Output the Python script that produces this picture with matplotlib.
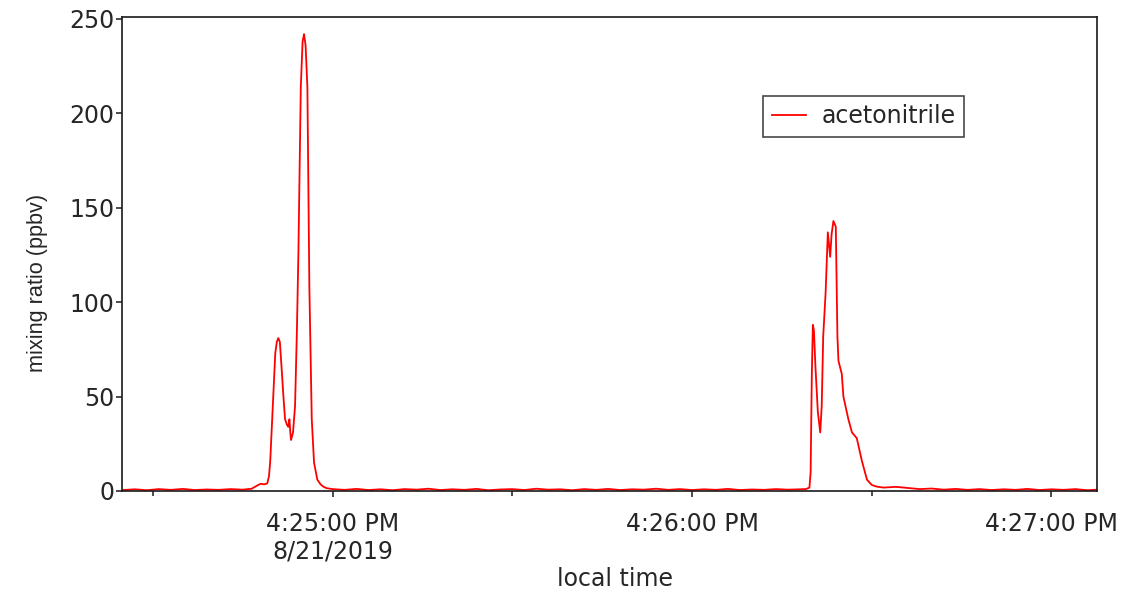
"""
Acetonitrile mixing ratio time series, 8/21/2019, 4:24:25 - 4:27:08 PM local time.
Writes out.png.
"""

from datetime import datetime, timedelta

import matplotlib

matplotlib.use("Agg")
import matplotlib.dates as mdates
import matplotlib.pyplot as plt
from matplotlib.ticker import FuncFormatter

# seconds relative to 4:25:00 PM
seconds = [
    -35, -33, -31, -29, -27, -25, -23, -21, -19, -17, -15, -13.5,
    # first plume
    -12.4, -12.0, -11.4, -10.9, -10.6, -10.4, -9.95, -9.56, -9.3, -9.05,
    -8.8, -8.48, -8.2, -7.93, -7.6, -7.38, -7.2, -7.05, -6.93, -6.6,
    -6.26, -5.95, -5.7, -5.5, -5.3, -5.0, -4.76, -4.5, -4.2, -3.87,
    -3.47, -3.09, -2.54, -2.0, -1.54, -1.0,
    # background
    0, 2, 4, 6, 8, 10, 12, 14, 16, 18, 20, 22, 24, 26, 28, 30, 32, 34, 36, 38,
    40, 42, 44, 46, 48, 50, 52, 54, 56, 58, 60, 62, 64, 66, 68, 70, 72, 74, 76, 78,
    # second plume
    79.0, 79.6, 79.8, 80.0, 80.17, 80.35, 80.6, 81.0, 81.4, 81.65,
    81.9, 82.3, 82.67, 83.06, 83.3, 83.6, 84.0, 84.27, 84.44, 85.0,
    85.27, 86.1, 86.7, 87.5, 88.35, 89.2, 90.0, 90.85,
    # background
    92, 94, 96, 98, 100, 102, 104, 106, 108, 110, 112, 114, 116, 118, 120,
    122, 124, 126, 127.6,
]

ppbv = [
    0.5, 0.9, 0.4, 1.0, 0.6, 1.1, 0.5, 0.8, 0.6, 1.0, 0.7, 1.2,
    3.2, 3.8, 3.5, 4.0, 8, 16, 46, 73, 79, 81,
    79, 64, 50, 38, 35, 34, 38, 31, 27, 31,
    45, 85, 126, 170, 214, 238, 242, 236, 214, 108,
    38, 15, 6, 3.5, 2.3, 1.5,
    1.0, 0.6, 1.1, 0.5, 0.9, 0.4, 1.0, 0.7, 1.2, 0.5, 0.9, 0.6, 1.1, 0.4, 0.8, 1.0, 0.5, 1.2, 0.7, 0.9,
    0.4, 1.0, 0.6, 1.1, 0.5, 0.9, 0.7, 1.2, 0.6, 1.0, 0.5, 0.9, 0.6, 1.1, 0.5, 0.8, 0.6, 1.0, 0.7, 0.9,
    1.0, 1.8, 10, 62, 88, 85, 66, 42, 31, 45,
    82, 105, 137, 124, 136, 143, 140, 82, 69, 62,
    50, 38, 31, 28, 16, 6, 3.2, 2.3,
    1.8, 2.2, 1.6, 1.0, 1.3, 0.7, 1.1, 0.6, 1.0, 0.5, 0.9, 0.6, 1.1, 0.5, 0.9,
    0.6, 1.0, 0.4, 0.7,
]

t_ref = datetime(2019, 8, 21, 16, 25, 0)
x_start = t_ref - timedelta(seconds=35.1)
x_end = t_ref + timedelta(seconds=127.6)

times = [t_ref + timedelta(seconds=s) for s in seconds]

plt.rcParams["font.family"] = ["DejaVu Sans"]
TEXT = "#262626"


def time_label(x, pos=None):
    dt = mdates.num2date(x)
    label = f"{dt.hour % 12 or 12}:{dt:%M:%S} {dt:%p}"
    if dt.minute == 25 and dt.second == 0:
        label += f"\n{dt.month}/{dt.day}/{dt.year}"
    return label


fig = plt.figure(figsize=(11.3, 5.92), dpi=100)
ax = fig.add_axes([0.1082, 0.1698, 0.8626, 0.8010])

ax.plot(times, ppbv, color="#ff0000", linewidth=1.3, label="acetonitrile")

ax.set_xlim(x_start, x_end)
ax.set_ylim(-0.26, 250.9)
ax.set_yticks([0, 50, 100, 150, 200, 250])

ax.xaxis.set_major_locator(mdates.SecondLocator(bysecond=[0]))
ax.xaxis.set_minor_locator(mdates.SecondLocator(bysecond=[30]))
ax.xaxis.set_major_formatter(FuncFormatter(time_label))

for spine in ax.spines.values():
    spine.set_linewidth(1.2)
    spine.set_color("#1a1a1a")

ax.tick_params(axis="both", which="major", direction="out", length=4.5,
               width=1.1, color="#1a1a1a", labelsize=17, labelcolor=TEXT)
ax.tick_params(axis="x", which="major", pad=10)
ax.tick_params(axis="y", which="major", pad=1)
ax.tick_params(axis="x", which="minor", direction="out", length=3.5,
               width=1.1, color="#1a1a1a")

ax.set_xlabel("local time", fontsize=17, color=TEXT, va="center")
ax.xaxis.set_label_coords(0.5055, -0.1845)
ax.set_ylabel("mixing ratio (ppbv)", fontsize=15.6, color=TEXT, va="center",
              family=["Liberation Sans", "DejaVu Sans"])
ax.yaxis.set_label_coords(-0.0865, 0.44)

legend = ax.legend(
    loc="upper left",
    bbox_to_anchor=(763.3 / 1130, 1 - 96 / 592),
    bbox_transform=fig.transFigure,
    fontsize=17,
    frameon=True,
    fancybox=False,
    edgecolor="#1a1a1a",
    borderaxespad=0,
    borderpad=0.35,
    handlelength=1.44,
    handletextpad=0.69,
)
legend.get_frame().set_linewidth(1.2)
for text in legend.get_texts():
    text.set_color(TEXT)

fig.savefig("out.png", dpi=100, facecolor="white")
plt.close(fig)
